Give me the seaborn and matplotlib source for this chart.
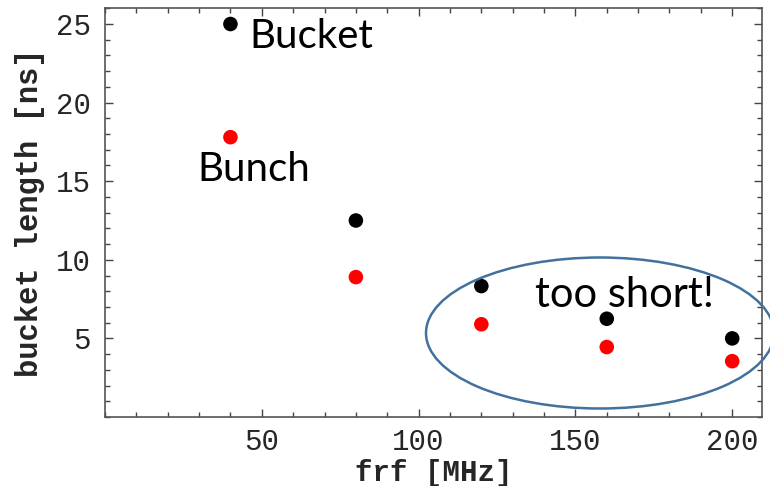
import matplotlib
matplotlib.use("Agg")
import matplotlib.pyplot as plt
from matplotlib.patches import Ellipse
from matplotlib.ticker import MultipleLocator
import seaborn as sns
import pandas as pd

# RF frequency [MHz] and corresponding lengths [ns]
frf = [40, 80, 120, 160, 200]
bucket_len = [25.0, 12.5, 8.33, 6.25, 5.0]
bunch_len = [17.8, 8.9, 5.9, 4.45, 3.55]
x_ticks = [50, 100, 150, 200]
y_ticks = [5, 10, 15, 20, 25]

df = pd.DataFrame({
    "frf": frf * 2,
    "length": bucket_len + bunch_len,
    "kind": ["Bucket"] * len(frf) + ["Bunch"] * len(frf),
})

sns.set_style("ticks")
fig = plt.figure(figsize=(7.7, 4.86), dpi=100)
ax = fig.add_axes([105 / 770, 1 - 417 / 486, (762 - 105) / 770, (417 - 7.5) / 486])

sns.scatterplot(data=df, x="frf", y="length", hue="kind",
                palette={"Bucket": "black", "Bunch": "#ff0000"},
                s=110, edgecolor="none", legend=False, ax=ax, zorder=3)

ax.set_xlim(0, 209.5)
ax.set_ylim(0, 26.05)
ax.set_xticks(x_ticks)
ax.set_yticks(y_ticks)
ax.xaxis.set_minor_locator(MultipleLocator(10))
ax.yaxis.set_minor_locator(MultipleLocator(1))

mono = "Liberation Mono"
ax.tick_params(which="both", direction="in", top=True, right=True,
               color="#444444", width=1.0)
ax.tick_params(which="major", length=6, labelsize=21)
ax.tick_params(axis="y", which="major", pad=10)
ax.tick_params(axis="x", which="major", pad=8)
ax.tick_params(which="minor", length=3.5)
for lab in ax.get_xticklabels() + ax.get_yticklabels():
    lab.set_fontfamily(mono)

for sp in ax.spines.values():
    sp.set_color("#555555")
    sp.set_linewidth(1.2)

ax.set_xlabel("frf [MHz]", fontfamily=mono, fontweight="bold", fontsize=21, labelpad=2)
ax.set_ylabel("bucket length [ns]", fontfamily=mono, fontweight="bold", fontsize=22, labelpad=8)

# annotations
ann = "Lato"
fig.text(249 / 770, 1 - 37 / 486, "Bucket", fontfamily=ann, fontsize=29,
         va="center", ha="left", color="black")
fig.text(197 / 770, 1 - 169 / 486, "Bunch", fontfamily=ann, fontsize=29,
         va="center", ha="left", color="black")
fig.text(535 / 770, 1 - 295 / 486, "too short!", fontfamily=ann, fontsize=30,
         va="center", ha="left", color="black")

# highlight of the high-frequency region
ell = Ellipse((600 / 770, 1 - 333 / 486), 348 / 770, 151 / 486,
              transform=fig.transFigure, fill=False, edgecolor="#41719c",
              linewidth=1.8, clip_on=False, zorder=5)
fig.add_artist(ell)

fig.savefig("out.png", dpi=100)
